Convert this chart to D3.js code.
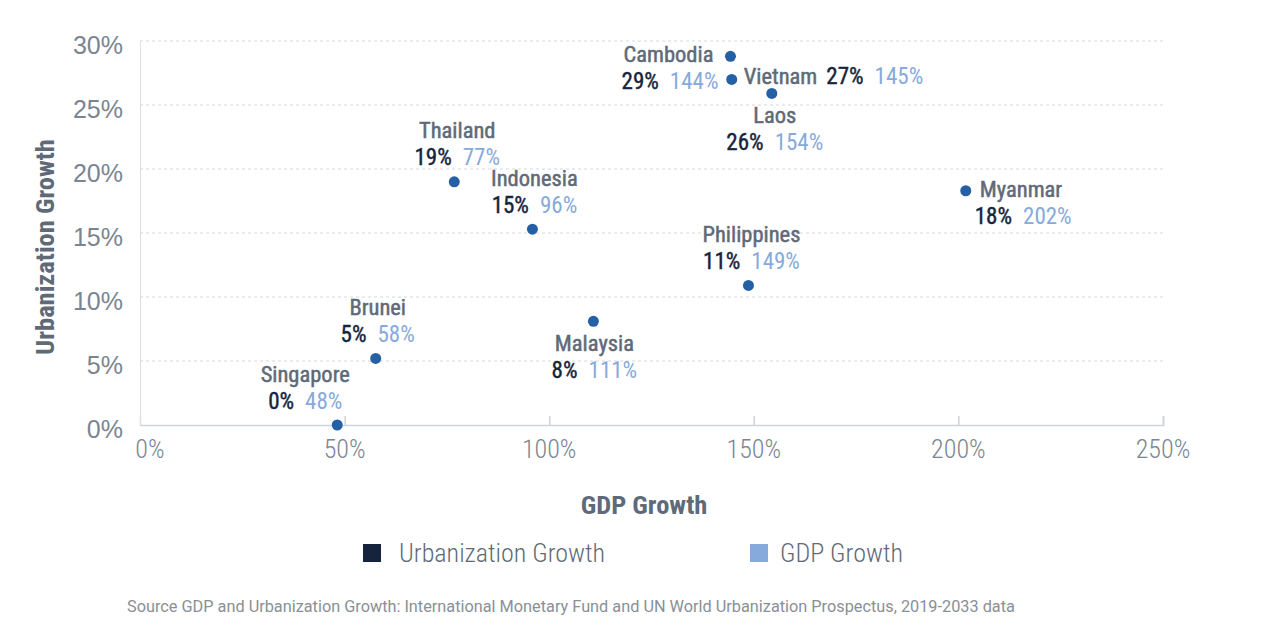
<!DOCTYPE html>
<html><head><meta charset="utf-8">
<script src="https://cdn.jsdelivr.net/npm/d3@7"></script>
<style>
html,body{margin:0;padding:0;background:#fff;}
svg{display:block;font-family:"Roboto Condensed","Liberation Sans Narrow","DejaVu Sans Condensed",sans-serif;}
</style></head>
<body>
<svg id="chart" width="1266" height="636"></svg>
<script>
const countries = ["Cambodia","Vietnam","Laos","Thailand","Indonesia","Myanmar","Philippines","Malaysia","Brunei","Singapore"];
const gdpGrowth = [144.3, 144.6, 154.4, 76.8, 95.9, 201.8, 148.7, 110.8, 57.6, 48.2];
const urbanGrowth = [28.8, 27.0, 25.9, 19.0, 15.3, 18.3, 10.9, 8.1, 5.2, 0.0];
const xTicks = [0, 50, 100, 150, 200, 250];
const yTicks = [0, 5, 10, 15, 20, 25, 30];
const seriesNames = ["Urbanization Growth", "GDP Growth"];
const sourceText = "Source GDP and Urbanization Growth: International Monetary Fund and UN World Urbanization Prospectus, 2019-2033 data";

const C = {dark:"#15243c", light:"#86aadb", grey:"#5f6a78", tick:"#7a8590", grid:"#d3d7dc", dot:"#2660a4"};
const svg = d3.select("#chart");
const x = d3.scaleLinear().domain([0,250]).range([140,1163]);
const y = d3.scaleLinear().domain([0,30]).range([425,41]);

// grid
svg.append("g").selectAll("line").data(yTicks.filter(d=>d>0)).join("line")
  .attr("x1",x(0)).attr("x2",x(250)).attr("y1",d=>y(d)).attr("y2",d=>y(d))
  .attr("stroke",C.grid).attr("stroke-dasharray","3,3").attr("stroke-width",1);

// x axis
const xAxis = svg.append("g").attr("transform",`translate(0,${y(0)})`)
  .call(d3.axisTop(x).tickValues(xTicks).tickSize(9).tickFormat(""));
xAxis.select(".domain").attr("stroke","#cfd3d8").attr("stroke-width",1.5);
xAxis.selectAll(".tick line").attr("stroke","#cfd3d8").attr("stroke-width",1.5);
xAxis.selectAll(".tick").filter(d=>d===0).remove();
svg.append("g").selectAll("text").data(xTicks).join("text")
  .attr("x",d=>x(d)+(d===0?10:0)).attr("y",y(0)+33)
  .attr("text-anchor","middle").attr("font-size",26).attr("font-weight",300)
  .attr("fill",C.tick).text(d=>d+"%");

// y axis
const yAxis = svg.append("g").attr("transform",`translate(${x(0)},0)`)
  .call(d3.axisLeft(y).tickValues(yTicks).tickSize(0).tickFormat(d=>d+"%"));
yAxis.select(".domain").attr("stroke","#dde0e4").attr("stroke-width",1);
yAxis.selectAll("text").attr("x",-17).attr("dy","0.5em").attr("font-size",25)
  .attr("font-weight",300).attr("fill",C.tick).attr("font-family",null);

// axis titles
svg.append("text").attr("x",644).attr("y",514).attr("text-anchor","middle")
  .attr("font-size",26.5).attr("font-weight",700).attr("fill",C.grey).text("GDP Growth");
svg.append("text").attr("transform","translate(54,247) rotate(-90)").attr("text-anchor","middle")
  .attr("font-size",26.5).attr("font-weight",700).attr("fill",C.grey).text("Urbanization Growth");

// points
const data = countries.map((c,i)=>({name:c,gdp:gdpGrowth[i],urb:urbanGrowth[i]}));
svg.append("g").selectAll("circle").data(data).join("circle")
  .attr("cx",d=>x(d.gdp)).attr("cy",d=>y(d.urb)).attr("r",5.5).attr("fill",C.dot);

// label placement (layout, not data)
const place = {
  Cambodia:["left",-17], Vietnam:["inline",12], Laos:["below",3],
  Thailand:["above",3], Indonesia:["above",2], Myanmar:["right",14],
  Philippines:["above",3], Malaysia:["below",1], Brunei:["above",2],
  Singapore:["above",-32]
};
const LINE = 27;
const fmt = d3.format(".0f");
const nameStyle = t => t.attr("font-size",22.5).attr("font-weight",400).attr("fill",C.grey)
  .attr("stroke",C.grey).attr("stroke-width",0.5);
const darkStyle = t => t.attr("font-size",23).attr("fill",C.dark).attr("stroke",C.dark).attr("stroke-width",0.4);
const lightStyle = t => t.attr("font-size",23).attr("fill",C.light).attr("stroke","none");
const lab = svg.append("g");
data.forEach(d=>{
  const [mode,dx] = place[d.name];
  const px = x(d.gdp), py = y(d.urb);
  const t = lab.append("text");
  if(mode==="inline"){
    t.attr("x",px+dx).attr("y",py+5);
    t.append("tspan").call(nameStyle).text(d.name);
    t.append("tspan").call(darkStyle).attr("dx",9).text(fmt(d.urb)+"%");
    t.append("tspan").call(lightStyle).attr("dx",11).text(fmt(d.gdp)+"%");
    return;
  }
  let anchor, nx, ny, vx;
  if(mode==="above"){ anchor="middle"; nx=px+dx; ny=py-43.5; vx=px+dx; }
  else if(mode==="below"){ anchor="middle"; nx=px+dx; ny=py+29.5; vx=px+dx; }
  else if(mode==="left"){ anchor="end"; nx=px+dx; ny=py+5.5; vx=px+dx+5; }
  else { anchor="start"; nx=px+dx; ny=py+6.5; vx=px+dx-5; }
  t.attr("text-anchor",anchor).attr("x",nx).attr("y",ny);
  t.append("tspan").call(nameStyle).attr("x",nx).text(d.name);
  t.append("tspan").call(darkStyle).attr("x",vx).attr("dy",LINE).text(fmt(d.urb)+"%");
  t.append("tspan").call(lightStyle).attr("dx",11).text(fmt(d.gdp)+"%");
});

// legend
const leg = svg.append("g");
const legX = [363, 750], legGap = [36, 30], legCol = [C.dark, C.light];
seriesNames.forEach((s,i)=>{
  leg.append("rect").attr("x",legX[i]).attr("y",544).attr("width",18).attr("height",18).attr("fill",legCol[i]);
  leg.append("text").attr("x",legX[i]+legGap[i]).attr("y",562).attr("font-size",26).attr("font-weight",300)
    .attr("fill",C.grey).text(s);
});

svg.append("text").attr("x",127).attr("y",612).attr("font-family","Roboto, sans-serif")
  .attr("font-size",16.3).attr("fill","#8a8f96").text(sourceText);
</script>
</body></html>
